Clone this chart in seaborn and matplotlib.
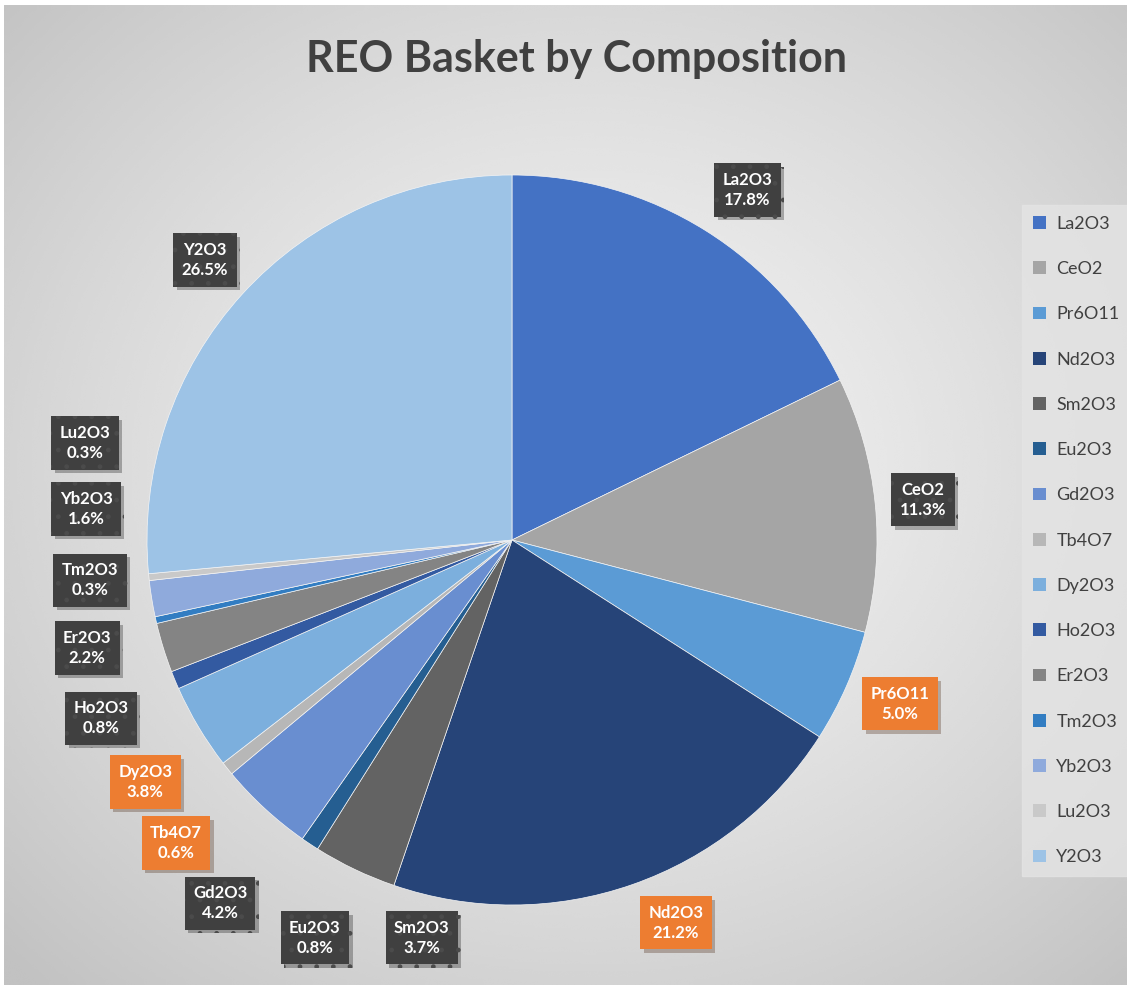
import numpy as np
import matplotlib
matplotlib.use("Agg")
import matplotlib.pyplot as plt
import matplotlib.patheffects as pe
import seaborn as sns

sns.set_theme(style="white")
plt.rcParams['font.family'] = ['Lato', 'DejaVu Sans']

categories = ["La2O3", "CeO2", "Pr6O11", "Nd2O3", "Sm2O3", "Eu2O3", "Gd2O3", "Tb4O7",
              "Dy2O3", "Ho2O3", "Er2O3", "Tm2O3", "Yb2O3", "Lu2O3", "Y2O3"]
values = [17.8, 11.3, 5.0, 21.2, 3.7, 0.8, 4.2, 0.6, 3.8, 0.8, 2.2, 0.3, 1.6, 0.3, 26.5]
highlight = ["Pr6O11", "Nd2O3", "Dy2O3", "Tb4O7"]
colors = ["#4472C4", "#A5A5A5", "#5B9BD5", "#264478", "#636363", "#255E91", "#698ED0",
          "#B7B7B7", "#7CAFDD", "#335AA1", "#848484", "#327DC2", "#8FAADC", "#C9C9C9", "#9DC3E6"]
# label box centres (pie data units, radius = 1)
label_pos = [(0.645, 0.959), (1.126, 0.110), (1.063, -0.449), (0.449, -1.049),
             (-0.247, -1.090), (-0.540, -1.090), (-0.800, -0.995), (-0.921, -0.830),
             (-1.005, -0.663), (-1.126, -0.488), (-1.164, -0.296), (-1.156, -0.110),
             (-1.167, 0.085), (-1.170, 0.266), (-0.841, 0.767)]

W, H = 1127, 985
fig = plt.figure(figsize=(W / 100, H / 100), dpi=100)
fig.patch.set_facecolor("white")

# background radial gradient
bg = fig.add_axes([4 / W, 0, 1 - 4 / W, 1 - 5 / H])
yy, xx = np.mgrid[0:400, 0:460]
cx, cy = 0.52 * 460, 0.47 * 400
r = np.sqrt(((xx - cx) / 460) ** 2 + ((yy - cy) / 400) ** 2) / 0.72
r = np.clip(r, 0, 1)
val = 0.95 - 0.19 * r ** 1.4
bg.imshow(val, cmap="gray", vmin=0, vmax=1, aspect="auto", interpolation="bicubic")
bg.set_axis_off()

# pie axes
R = 365
cxp, cyp = 512, 540
ax = fig.add_axes([(cxp - R) / W, (H - cyp - R) / H, 2 * R / W, 2 * R / H])
ax.set_facecolor("none")
wedges, _ = ax.pie(values, colors=colors, startangle=90, counterclock=False, radius=1,
                   wedgeprops=dict(linewidth=0.5, edgecolor="#f4f4f4"))
ax.set_xlim(-1, 1)
ax.set_ylim(-1, 1)
ax.set_aspect("equal")
ax.set_axis_off()

for cat, v, (lx, ly) in zip(categories, values, label_pos):
    hl = cat in highlight
    fc = "#ED7D31" if hl else "#404040"
    t = ax.text(lx, ly, f"{cat}\n{v:.1f}%", ha="center", va="center", color="white",
                fontsize=12, fontweight="bold", linespacing=1.35, clip_on=False, zorder=5,
                bbox=dict(boxstyle="square,pad=0.5", facecolor=fc,
                          edgecolor=fc if hl else "#4b4b4b",
                          linewidth=0, hatch=None if hl else "."))
    t.get_bbox_patch().set_path_effects([pe.SimplePatchShadow(offset=(2.5, -2.5), alpha=0.3),
                                        pe.Normal()])

fig.text(577 / W, 1 - 59 / H, "REO Basket by Composition", ha="center", va="center",
         fontsize=31, fontweight="bold", color="#404040")

leg = fig.legend(wedges, categories, loc="upper left", bbox_to_anchor=(1013 / W, 1 - 196 / H),
                 frameon=True, fancybox=False, fontsize=13, labelspacing=1.62,
                 handlelength=0.7, handleheight=0.7, handletextpad=0.6, borderpad=0.6,
                 labelcolor="#404040")
leg.get_frame().set_facecolor("#E4E4E4")
leg.get_frame().set_edgecolor("#E4E4E4")
leg.get_frame().set_alpha(0.8)
for h in leg.legend_handles:
    h.set_linewidth(0)

fig.savefig("out.png", dpi=100, facecolor=fig.get_facecolor())
